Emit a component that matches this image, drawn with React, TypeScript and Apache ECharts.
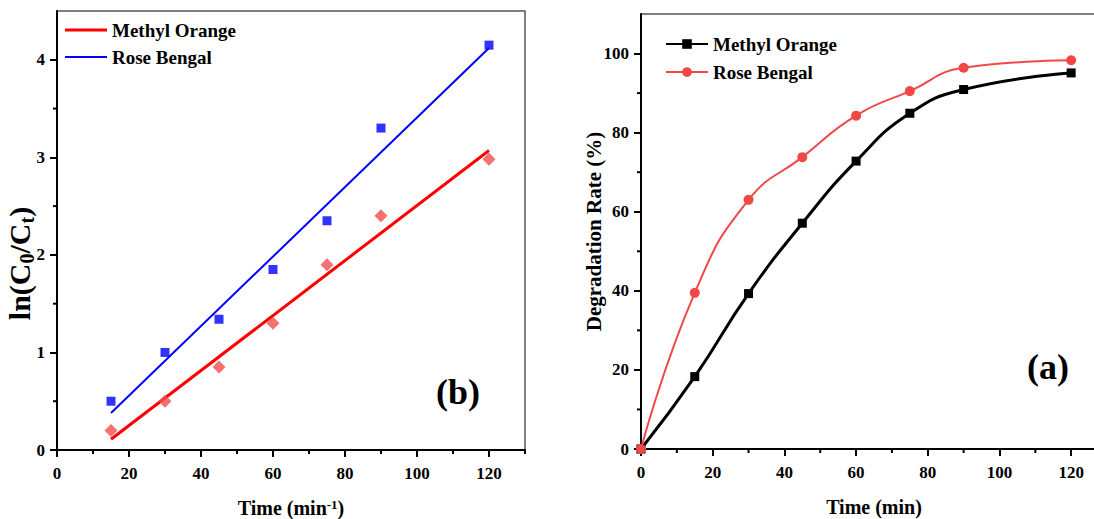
import React, { useEffect, useRef } from "react";
import * as echarts from "echarts";

// Kinetics panel (b): ln(C0/Ct) vs time
const timePts = [15, 30, 45, 60, 75, 90, 120];
const moLn = [0.2, 0.5, 0.85, 1.3, 1.9, 2.4, 2.98];
const rbLn = [0.5, 1.0, 1.34, 1.85, 2.35, 3.3, 4.15];
const fitX = [15, 120];
const moFit = [0.11, 3.07];
const rbFit = [0.38, 4.12];

// Degradation panel (a): rate (%) vs time
const timeDeg = [0, 15, 30, 45, 60, 75, 90, 120];
const moDeg = [0, 18.3, 39.3, 57.1, 72.8, 84.9, 90.9, 95.1];
const rbDeg = [0, 39.5, 63.0, 73.8, 84.3, 90.5, 96.4, 98.3];

// Labelled ticks
const xTicks = [0, 20, 40, 60, 80, 100, 120];
const yTicksLn = [0, 1, 2, 3, 4];
const yTicksDeg = [0, 20, 40, 60, 80, 100];
// Short unlabelled ticks
const xMinor = [10, 30, 50, 70, 90, 110, 130];
const yMinorLn = [0.5, 1.5, 2.5, 3.5];
const yMinorDeg = [10, 30, 50, 70, 90];

const FONT = "'Liberation Serif', 'Times New Roman', serif";
const BLACK = "#000";
const tickLine = { color: BLACK, width: 2 };
const axisLineStyle = { color: BLACK, width: 2 };
const MINOR_LEN = 4;

const zip = (xs: number[], ys: number[]) => xs.map((x, i) => [x, ys[i]]);

const labelStyle = {
  color: BLACK,
  fontFamily: FONT,
  fontWeight: "bold" as const,
  fontSize: 17,
};

const legendText = { ...labelStyle, fontSize: 19, lineHeight: 20 };

function valueAxis(extra: any) {
  return {
    type: "value",
    splitLine: { show: false },
    nameMoveOverlap: false,
    axisLine: { show: true, onZero: false, lineStyle: axisLineStyle },
    ...extra,
  };
}

// Short outward ticks between the labelled ones, placed through the axis scales
function minorTicks(xVals: number[], yVals: number[], yMin: number): any {
  const data = [
    ...xVals.map((v) => [v, yMin, 0]),
    ...yVals.map((v) => [0, v, 1]),
  ];
  return {
    type: "custom",
    silent: true,
    clip: false,
    z: 10,
    data,
    encode: { x: 0, y: 1 },
    renderItem: (_params: any, api: any) => {
      const p = api.coord([api.value(0), api.value(1)]);
      const vertical = api.value(2) === 0;
      return {
        type: "line",
        shape: vertical
          ? { x1: p[0], y1: p[1], x2: p[0], y2: p[1] + MINOR_LEN }
          : { x1: p[0], y1: p[1], x2: p[0] - MINOR_LEN, y2: p[1] },
        style: { stroke: BLACK, lineWidth: 2 },
      };
    },
  };
}

const gridBox = {
  show: true,
  borderColor: "#555",
  borderWidth: 1.5,
  outerBoundsMode: "none",
  containLabel: false,
};

function leftOption(): any {
  return {
    animation: false,
    backgroundColor: "#fff",
    grid: { ...gridBox, left: 57, top: 11, width: 468, height: 439 },
    legend: [
      {
        left: 60,
        top: 15,
        icon: "rect",
        itemWidth: 42,
        itemHeight: 3,
        textStyle: legendText,
        data: ["Methyl Orange"],
      },
      {
        left: 60,
        top: 42,
        icon: "rect",
        itemWidth: 42,
        itemHeight: 2,
        textStyle: legendText,
        data: ["Rose Bengal"],
      },
    ],
    xAxis: valueAxis({
      min: 0,
      max: 130,
      position: "bottom",
      axisTick: { show: true, length: 7, lineStyle: tickLine, customValues: xTicks },
      axisLabel: { ...labelStyle, margin: 15, customValues: xTicks },
      name: "Time (min{sup|-1})",
      nameLocation: "middle",
      nameGap: 48,
      nameTextStyle: {
        color: BLACK,
        fontFamily: FONT,
        fontWeight: "bold",
        fontSize: 20,
        rich: {
          sup: {
            fontFamily: FONT,
            fontWeight: "bold",
            fontSize: 13,
            verticalAlign: "top",
            lineHeight: 12,
            color: BLACK,
          },
        },
      },
    }),
    yAxis: valueAxis({
      min: 0,
      max: 4.5,
      position: "left",
      axisTick: { show: true, length: 7, lineStyle: tickLine, customValues: yTicksLn },
      axisLabel: { ...labelStyle, margin: 12, customValues: yTicksLn },
      name: "ln(C{sub|0}/C{sub|t})",
      nameLocation: "middle",
      nameRotate: 90,
      nameGap: 20,
      nameTextStyle: {
        color: BLACK,
        fontFamily: FONT,
        fontWeight: "bold",
        fontSize: 30,
        lineHeight: 36,
        padding: [0, 66, 0, 0],
        rich: {
          sub: {
            fontFamily: FONT,
            fontWeight: "bold",
            fontSize: 20,
            verticalAlign: "bottom",
            lineHeight: 12,
            color: BLACK,
          },
        },
      },
    }),
    series: [
      {
        name: "Methyl Orange",
        type: "line",
        symbol: "none",
        data: zip(fitX, moFit),
        lineStyle: { color: "#ff0000", width: 3 },
        itemStyle: { color: "#ff0000" },
        z: 3,
      },
      {
        name: "Rose Bengal",
        type: "line",
        symbol: "none",
        data: zip(fitX, rbFit),
        lineStyle: { color: "#0000ff", width: 2 },
        itemStyle: { color: "#0000ff" },
        z: 3,
      },
      {
        name: "Methyl Orange",
        type: "scatter",
        symbol: "diamond",
        symbolSize: 13,
        data: zip(timePts, moLn),
        itemStyle: { color: "#f04e4e" },
        z: 4,
      },
      {
        name: "Rose Bengal",
        type: "scatter",
        symbol: "rect",
        symbolSize: 9,
        data: zip(timePts, rbLn),
        itemStyle: { color: "#0000ff" },
        z: 4,
      },
      minorTicks(xMinor, yMinorLn, 0),
    ],
    graphic: [
      {
        type: "text",
        x: 458,
        y: 392,
        style: {
          text: "(b)",
          font: `bold 36px ${FONT}`,
          fill: BLACK,
          align: "center",
          verticalAlign: "middle",
        },
      },
    ],
  };
}

function rightOption(): any {
  return {
    animation: false,
    backgroundColor: "#fff",
    grid: { ...gridBox, left: 81, top: 14, width: 466, height: 435 },
    legend: {
      left: 100,
      top: 29,
      orient: "vertical",
      itemWidth: 42,
      itemHeight: 12,
      itemGap: 8,
      textStyle: legendText,
      data: ["Methyl Orange", "Rose Bengal"],
    },
    xAxis: valueAxis({
      min: 0,
      max: 130,
      position: "bottom",
      axisTick: { show: true, length: 7, lineStyle: tickLine, customValues: xTicks },
      axisLabel: { ...labelStyle, margin: 15, customValues: xTicks },
      name: "Time (min)",
      nameLocation: "middle",
      nameGap: 48,
      nameTextStyle: { color: BLACK, fontFamily: FONT, fontWeight: "bold", fontSize: 20 },
    }),
    yAxis: valueAxis({
      min: 0,
      max: 110,
      position: "left",
      axisTick: { show: true, length: 7, lineStyle: tickLine, customValues: yTicksDeg },
      axisLabel: { ...labelStyle, margin: 12, customValues: yTicksDeg },
      name: "Degradation Rate (%)",
      nameLocation: "middle",
      nameRotate: 90,
      nameGap: 37,
      nameTextStyle: { color: BLACK, fontFamily: FONT, fontWeight: "bold", fontSize: 21 },
    }),
    series: [
      {
        name: "Methyl Orange",
        type: "line",
        smooth: 0.5,
        symbol: "rect",
        symbolSize: 9,
        data: zip(timeDeg, moDeg),
        lineStyle: { color: BLACK, width: 3 },
        itemStyle: { color: BLACK },
      },
      {
        name: "Rose Bengal",
        type: "line",
        smooth: 0.5,
        symbol: "circle",
        symbolSize: 10,
        data: zip(timeDeg, rbDeg),
        lineStyle: { color: "#f24747", width: 2 },
        itemStyle: { color: "#f24747" },
      },
      minorTicks(xMinor, yMinorDeg, 0),
    ],
    graphic: [
      {
        type: "text",
        x: 488,
        y: 367,
        style: {
          text: "(a)",
          font: `bold 36px ${FONT}`,
          fill: BLACK,
          align: "center",
          verticalAlign: "middle",
        },
      },
    ],
  };
}

function Chart({ option, style }: { option: any; style: React.CSSProperties }) {
  const ref = useRef<HTMLDivElement>(null);
  useEffect(() => {
    if (!ref.current) return;
    const chart = echarts.init(ref.current, undefined, { renderer: "svg" });
    chart.setOption(option);
    return () => chart.dispose();
  }, [option]);
  return <div ref={ref} style={style} />;
}

const leftOpt = leftOption();
const rightOpt = rightOption();

export default function App() {
  return (
    <div
      style={{
        position: "fixed",
        left: 0,
        top: 0,
        width: 1094,
        height: 519,
        background: "#fff",
        overflow: "hidden",
      }}
    >
      <Chart option={leftOpt} style={{ position: "absolute", left: 0, top: 0, width: 560, height: 519 }} />
      <Chart option={rightOpt} style={{ position: "absolute", left: 560, top: 0, width: 534, height: 519 }} />
    </div>
  );
}
